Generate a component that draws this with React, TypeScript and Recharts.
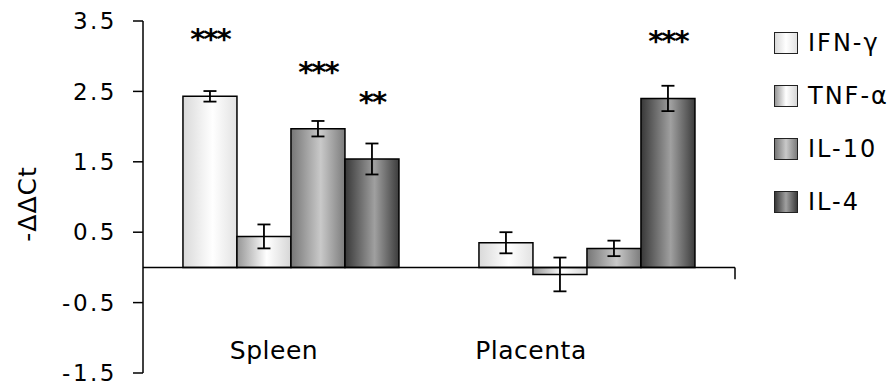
import {
  BarChart,
  Bar,
  XAxis,
  YAxis,
  ErrorBar,
  ReferenceLine,
  LabelList,
} from "recharts";

// -ΔΔCt per tissue, mean ± SEM
const tissues = ["Spleen", "Placenta"];
const ifnG = [2.43, 0.35];
const ifnGErr = [0.075, 0.15];
const tnfA = [0.44, -0.1];
const tnfAErr = [0.17, 0.24];
const il10 = [1.97, 0.27];
const il10Err = [0.11, 0.11];
const il4 = [1.54, 2.4];
const il4Err = [0.22, 0.18];

// significance marks above bars
const ifnGSig = ["***", ""];
const tnfASig = ["", ""];
const il10Sig = ["***", ""];
const il4Sig = ["**", "***"];

const yTicks = [-1.5, -0.5, 0.5, 1.5, 2.5, 3.5];
// band boundaries on the tissue axis (index units)
const tissueEdges = [1, 2];

const SERIES = [
  { key: "ifn", name: "IFN-γ", values: ifnG, err: ifnGErr, sig: ifnGSig, stops: ["#d9d9d9", "#ffffff", "#e2e2e2"] },
  { key: "tnf", name: "TNF-α", values: tnfA, err: tnfAErr, sig: tnfASig, stops: ["#969696", "#ffffff", "#d6d6d6"] },
  { key: "il10", name: "IL-10", values: il10, err: il10Err, sig: il10Sig, stops: ["#767676", "#c9c9c9", "#7c7c7c"] },
  { key: "il4", name: "IL-4", values: il4, err: il4Err, sig: il4Sig, stops: ["#383838", "#a0a0a0", "#3c3c3c"] },
];

const data = tissues.map((tissue, i) => {
  const row: Record<string, string | number> = { tissue };
  SERIES.forEach((s) => {
    row[s.key] = s.values[i];
    row[s.key + "Err"] = s.err[i];
    row[s.key + "Sig"] = s.sig[i];
  });
  return row;
});

const FONT = "'DejaVu Sans', sans-serif";
const LABEL_SHIFT: Record<string, number> = { Spleen: -17, Placenta: -56 };

function TissueTick({ x, y, payload }: any) {
  return (
    <text
      x={x + (LABEL_SHIFT[payload.value] ?? 0)}
      y={y - 14}
      textAnchor="middle"
      style={{ fontSize: 25, fontFamily: FONT, letterSpacing: 0.5 }}
      fill="#000"
    >
      {payload.value}
    </text>
  );
}

function SigLabel({ x, y, width, value }: any) {
  if (!value) return null;
  return (
    <text
      x={x + width / 2}
      y={y - 47}
      textAnchor="middle"
      style={{ fontSize: 29, fontWeight: "bold", fontFamily: FONT, letterSpacing: -2 }}
      fill="#000"
    >
      {value}
    </text>
  );
}

function YLabel({ viewBox }: any) {
  const cx = viewBox.x + 27;
  const cy = viewBox.y + viewBox.height / 2 + 7;
  return (
    <text
      x={cx}
      y={cy}
      transform={`rotate(-90, ${cx}, ${cy})`}
      textAnchor="middle"
      dominantBaseline="central"
      style={{ fontSize: 25, fontFamily: FONT, letterSpacing: 1 }}
      fill="#000"
    >
      -ΔΔCt
    </text>
  );
}

function LegendList() {
  return (
    <div style={{ position: "absolute", left: 774, top: 16, fontFamily: FONT }}>
      {SERIES.map((s) => (
        <div key={s.key} style={{ display: "flex", alignItems: "center", height: 53 }}>
          <div
            style={{
              width: 22,
              height: 20,
              border: "1.5px solid #222",
              background: `linear-gradient(to right, ${s.stops[0]}, ${s.stops[1]}, ${s.stops[2]})`,
              marginRight: 10,
            }}
          />
          <span style={{ fontSize: 24, letterSpacing: 2, color: "#000", whiteSpace: "nowrap" }}>{s.name}</span>
        </div>
      ))}
    </div>
  );
}

export default function App() {
  return (
    <div style={{ position: "absolute", left: 0, top: 0, width: 896, height: 390, background: "#fff", overflow: "hidden" }}>
      <BarChart
        width={896}
        height={390}
        data={data}
        margin={{ top: 21, right: 161, bottom: 16, left: 0 }}
        barCategoryGap="13.5%"
        barGap={0}
        style={{ fontFamily: FONT }}
      >
        <defs>
          {SERIES.map((s) => (
            <linearGradient key={s.key} id={`grad-${s.key}`} x1="0" y1="0" x2="1" y2="0">
              <stop offset="0%" stopColor={s.stops[0]} />
              <stop offset="55%" stopColor={s.stops[1]} />
              <stop offset="100%" stopColor={s.stops[2]} />
            </linearGradient>
          ))}
        </defs>
        <XAxis
          dataKey="tissue"
          height={1}
          axisLine={false}
          tickLine={false}
          tickSize={0}
          tickMargin={0}
          tick={<TissueTick />}
        />
        <XAxis xAxisId="edges" type="number" domain={[0, 2]} hide />
        <YAxis
          width={143}
          domain={[-1.5, 3.5]}
          ticks={yTicks}
          interval={0}
          allowDataOverflow
          tickSize={10}
          tickMargin={16}
          axisLine={{ stroke: "#000", strokeWidth: 1.5 }}
          tickLine={{ stroke: "#000", strokeWidth: 1.5 }}
          tick={{ fontSize: 23, fill: "#000", fontFamily: FONT, letterSpacing: 2.5 }}
          label={YLabel}
        />
        {SERIES.map((s) => (
          <Bar
            key={s.key}
            dataKey={s.key}
            name={s.name}
            fill={`url(#grad-${s.key})`}
            stroke="#000"
            strokeWidth={1.5}
            isAnimationActive={false}
          >
            <ErrorBar dataKey={s.key + "Err"} width={6.5} stroke="#000" strokeWidth={1.8} />
            <LabelList dataKey={s.key + "Sig"} content={<SigLabel />} />
          </Bar>
        ))}
        <ReferenceLine y={0} stroke="#000" strokeWidth={1.5} />
        {tissueEdges.map((e) => (
          <ReferenceLine
            key={e}
            xAxisId="edges"
            segment={[{ x: e, y: 0 }, { x: e, y: -0.17 }]}
            stroke="#000"
            strokeWidth={1.5}
          />
        ))}
      </BarChart>
      <LegendList />
    </div>
  );
}
